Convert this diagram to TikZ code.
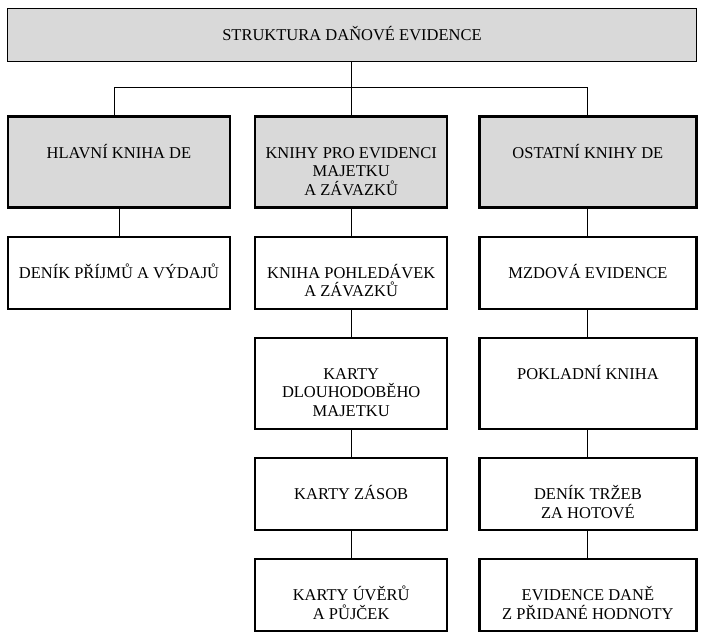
\documentclass[tikz,border=0pt]{standalone}
\usepackage{fontspec}
\setmainfont{Liberation Serif}
\usetikzlibrary{positioning, calc}
\definecolor{cHead}{RGB}{217,217,217}
\tikzset{
    box/.style={
        rectangle, draw=black, line width=2.2pt, inner sep=0pt,
        align=center, font=\fontsize{16.5}{18.5}\selectfont,
        text height=41.5pt, text depth=30.5pt,
    },
    % two lines in a short box: the baseline is the last line
    box2/.style={box, text height=60pt, text depth=12pt},
    boxtall/.style={box, text depth=49.5pt},
    boxtall3/.style={box, text height=78.5pt, text depth=12.5pt},
    boxhead/.style={boxtall, fill=cHead},
    titlebox/.style={
        box, fill=cHead, line width=1.4pt,
        text height=32pt, text depth=21pt, minimum width=689pt,
    },
    link/.style={draw=black, line width=0.9pt},
}

\begin{document}
\begin{tikzpicture}[x=1pt, y=1pt]

\useasboundingbox (0,0) rectangle (711,-639);

% ============================================================
%  Title box
% ============================================================
\node[titlebox] (title) at (352,-35) {STRUKTURA DAŇOVÉ EVIDENCE};

% ============================================================
%  Row 1: the three groups of books (grey heads)
% ============================================================
% First line of text sits near the top of each box, as in the
% original, so the text height is fixed rather than centred.
\node[boxhead, minimum width=222pt] (hlavni) at (119,-162) {HLAVNÍ KNIHA DE};
\node[boxtall3, fill=cHead, minimum width=192pt, right=23pt of hlavni] (knihy) {%
    KNIHY PRO EVIDENCI\\MAJETKU\\A ZÁVAZKŮ};
\node[boxhead, minimum width=217pt, right=30pt of knihy] (ostatni) {OSTATNÍ KNIHY DE};

% ============================================================
%  Columns below the heads
% ============================================================
\node[box, minimum width=222pt, below=27pt of hlavni] (denik) {DENÍK PŘÍJMŮ A VÝDAJŮ};

\node[box2, minimum width=192pt, below=27pt of knihy] (pohled) {KNIHA POHLEDÁVEK\\A ZÁVAZKŮ};
\node[boxtall3, minimum width=192pt, below=27pt of pohled] (karty) {KARTY\\DLOUHODOBĚHO\\MAJETKU};
\node[box, minimum width=192pt, below=27pt of karty] (zasoby) {KARTY ZÁSOB};
\node[box2, minimum width=192pt, below=27pt of zasoby] (uvery) {KARTY ÚVĚRŮ\\A PŮJČEK};

\node[box, minimum width=217pt, below=27pt of ostatni] (mzdy) {MZDOVÁ EVIDENCE};
\node[boxtall, minimum width=217pt, below=27pt of mzdy] (pokl) {POKLADNÍ KNIHA};
\node[box2, minimum width=217pt, below=27pt of pokl] (trzby) {DENÍK TRŽEB\\ZA HOTOVÉ};
\node[box2, minimum width=217pt, below=27pt of trzby] (dph) {EVIDENCE DANĚ\\Z PŘIDANÉ HODNOTY};

% ============================================================
%  Connectors
% ============================================================
\coordinate (fork) at ($(knihy.north |- title.south) + (0,-25.5)$);
\draw[link] (knihy.north |- title.south) -- (knihy.north);
\draw[link] ([xshift=-5pt]hlavni.north) |- (fork) -| (ostatni.north);

\draw[link] (hlavni) -- (denik);

\draw[link] (knihy)  -- (pohled);
\draw[link] (pohled) -- (karty);
\draw[link] (karty)  -- (zasoby);
\draw[link] (zasoby) -- (uvery);

\draw[link] (ostatni) -- (mzdy);
\draw[link] (mzdy)    -- (pokl);
\draw[link] (pokl)    -- (trzby);
\draw[link] (trzby)   -- (dph);

\end{tikzpicture}
\end{document}
